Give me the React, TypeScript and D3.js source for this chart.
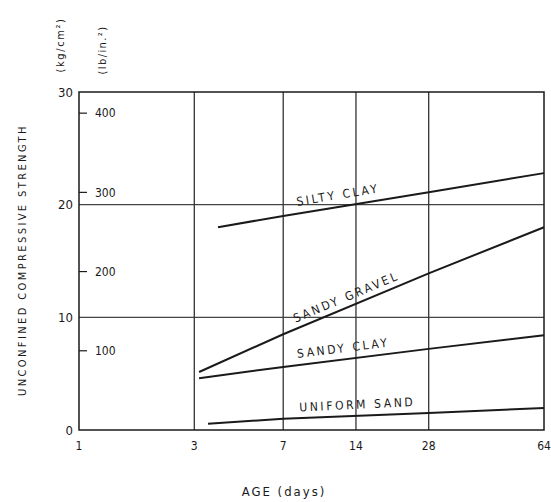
import * as d3 from "d3";
import { useEffect, useRef } from "react";

// age in days, strength in kg/cm2
const siltyClay = [
  { day: 3.76, v: 18.0 },
  { day: 7, v: 19.0 },
  { day: 28, v: 21.1 },
  { day: 84, v: 22.8 },
];
const sandyGravel = [
  { day: 3.14, v: 5.15 },
  { day: 7, v: 8.5 },
  { day: 28, v: 13.9 },
  { day: 84, v: 18.0 },
];
const sandyClay = [
  { day: 3.14, v: 4.6 },
  { day: 7, v: 5.6 },
  { day: 28, v: 7.2 },
  { day: 84, v: 8.4 },
];
const uniformSand = [
  { day: 3.42, v: 0.55 },
  { day: 7, v: 1.0 },
  { day: 28, v: 1.5 },
  { day: 84, v: 1.95 },
];

const seriesList = [
  { name: "SILTY CLAY", data: siltyClay, labelDay: 8.1 },
  { name: "SANDY GRAVEL", data: sandyGravel, labelDay: 8.1 },
  { name: "SANDY CLAY", data: sandyClay, labelDay: 8.1 },
  { name: "UNIFORM SAND", data: uniformSand, labelDay: 8.2 },
];

const ageTicks = [1, 3, 7, 14, 28, 84];
const ageLabels = ["1", "3", "7", "14", "28", "64"];
const kgTicks = [0, 10, 20, 30];
const psiTicks = [100, 200, 300, 400];
const KG_PER_PSI = 0.070307;

const font = "'DejaVu Sans Condensed', 'Liberation Sans Narrow', sans-serif";
const ink = "#1a1a1a";

const App = () => {
  const svgRef = useRef(null);
  const width = 551;
  const height = 502;
  const margin = { top: 92, right: 7, bottom: 72, left: 79 };

  useEffect(() => {
    const svg = d3.select(svgRef.current);
    svg.selectAll("*").remove();

    const x = d3.scaleLog().domain([1, 84]).range([margin.left, width - margin.right]);
    const y = d3.scaleLinear().domain([0, 30]).range([height - margin.bottom, margin.top]);

    const [x0, x1] = x.range();
    const [yb, yt] = y.range();

    svg.append("rect").attr("width", width).attr("height", height).attr("fill", "#fff");

    // horizontal grid
    svg
      .selectAll(".hgrid")
      .data(kgTicks.filter((d) => d > 0 && d < 30))
      .enter()
      .append("line")
      .attr("x1", x0)
      .attr("x2", x1)
      .attr("y1", (d) => y(d))
      .attr("y2", (d) => y(d))
      .attr("stroke", "#444")
      .attr("stroke-width", 1.1);

    // vertical grid
    svg
      .selectAll(".vgrid")
      .data(ageTicks.slice(1, -1))
      .enter()
      .append("line")
      .attr("x1", (d) => x(d))
      .attr("x2", (d) => x(d))
      .attr("y1", yt)
      .attr("y2", yb)
      .attr("stroke", "#333")
      .attr("stroke-width", 1.3);

    // frame
    svg
      .append("rect")
      .attr("x", x0)
      .attr("y", yt)
      .attr("width", x1 - x0)
      .attr("height", yb - yt)
      .attr("fill", "none")
      .attr("stroke", ink)
      .attr("stroke-width", 1.5);

    // kg/cm2 labels
    svg
      .selectAll(".kg")
      .data(kgTicks)
      .enter()
      .append("text")
      .attr("x", x0 - 6)
      .attr("y", (d) => y(d))
      .attr("dy", "0.36em")
      .attr("text-anchor", "end")
      .style("font-family", font)
      .style("font-size", "13px")
      .attr("fill", ink)
      .text((d) => d);

    // lb/in2 ticks inside
    const psi = svg.selectAll(".psi").data(psiTicks).enter().append("g");
    psi
      .append("line")
      .attr("x1", x0)
      .attr("x2", x0 + 8)
      .attr("y1", (d) => y(d * KG_PER_PSI))
      .attr("y2", (d) => y(d * KG_PER_PSI))
      .attr("stroke", ink)
      .attr("stroke-width", 1.2);
    psi
      .append("text")
      .attr("x", x0 + 16)
      .attr("y", (d) => y(d * KG_PER_PSI))
      .attr("dy", "0.36em")
      .style("font-family", font)
      .style("font-size", "12px")
      .attr("fill", ink)
      .text((d) => d);

    // x tick labels
    svg
      .selectAll(".age")
      .data(ageTicks)
      .enter()
      .append("text")
      .attr("x", (d) => x(d))
      .attr("y", yb + 20)
      .attr("text-anchor", "middle")
      .style("font-family", font)
      .style("font-size", "12px")
      .attr("fill", ink)
      .text((d, i) => ageLabels[i]);

    // curves
    const line = d3
      .line()
      .x((d) => x(d.day))
      .y((d) => y(d.v));

    seriesList.forEach((s) => {
      svg
        .append("path")
        .datum(s.data)
        .attr("d", line)
        .attr("fill", "none")
        .attr("stroke", ink)
        .attr("stroke-width", 2);

      const first = s.data[0];
      const last = s.data[s.data.length - 1];
      const angle =
        (Math.atan2(y(last.v) - y(first.v), x(last.day) - x(first.day)) * 180) / Math.PI;
      const t = (Math.log(s.labelDay) - Math.log(first.day)) / (Math.log(last.day) - Math.log(first.day));
      const lv = first.v + (last.v - first.v) * t;

      svg
        .append("text")
        .attr("transform", `translate(${x(s.labelDay)},${y(lv)}) rotate(${angle})`)
        .attr("y", -8)
        .style("font-family", font)
        .style("font-size", "12px")
        .style("letter-spacing", "2.6px")
        .attr("fill", ink)
        .text(s.name);
    });

    // axis titles
    svg
      .append("text")
      .attr("transform", `translate(26,260) rotate(-90)`)
      .attr("text-anchor", "middle")
      .style("font-family", font)
      .style("font-size", "11px")
      .style("letter-spacing", "2.4px")
      .attr("fill", ink)
      .text("UNCONFINED COMPRESSIVE STRENGTH");

    svg
      .append("text")
      .attr("transform", `translate(64,45) rotate(-90)`)
      .attr("text-anchor", "middle")
      .style("font-family", font)
      .style("font-size", "11px")
      .style("letter-spacing", "1.6px")
      .attr("fill", ink)
      .text("(kg/cm²)");

    svg
      .append("text")
      .attr("transform", `translate(106,50) rotate(-90)`)
      .attr("text-anchor", "middle")
      .style("font-family", font)
      .style("font-size", "11px")
      .style("letter-spacing", "1.4px")
      .attr("fill", ink)
      .text("(lb/in.²)");

    svg
      .append("text")
      .attr("x", 284)
      .attr("y", 496)
      .attr("text-anchor", "middle")
      .style("font-family", font)
      .style("font-size", "13px")
      .style("letter-spacing", "2px")
      .attr("fill", ink)
      .text("AGE (days)");
  }, []);

  return (
    <svg
      ref={svgRef}
      width={width}
      height={height}
      style={{ position: "absolute", left: 0, top: 0 }}
    ></svg>
  );
};

export default App;
